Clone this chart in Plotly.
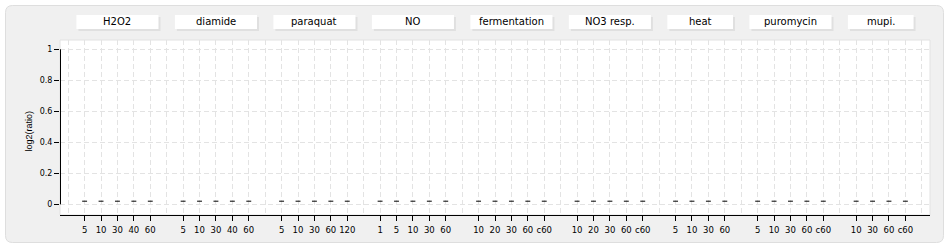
import plotly.graph_objects as go

# ---------------- data ----------------
groups = ["H2O2", "diamide", "paraquat", "NO", "fermentation",
          "NO3 resp.", "heat", "puromycin", "mupi."]
h2o2_t = ["5", "10", "30", "40", "60"]
diamide_t = ["5", "10", "30", "40", "60"]
paraquat_t = ["5", "10", "30", "60", "120"]
no_t = ["1", "5", "10", "30", "60"]
ferm_t = ["10", "20", "30", "60", "c60"]
no3_t = ["10", "20", "30", "60", "c60"]
heat_t = ["5", "10", "30", "60"]
puro_t = ["5", "10", "30", "60", "c60"]
mupi_t = ["10", "30", "60", "c60"]

h2o2_v = [0.02, 0.02, 0.02, 0.02, 0.02]
diamide_v = [0.02, 0.02, 0.02, 0.02, 0.02]
paraquat_v = [0.02, 0.02, 0.02, 0.02, 0.02]
no_v = [0.02, 0.02, 0.02, 0.02, 0.02]
ferm_v = [0.02, 0.02, 0.02, 0.02, 0.02]
no3_v = [0.02, 0.02, 0.02, 0.02, 0.02]
heat_v = [0.02, 0.02, 0.02, 0.02]
puro_v = [0.02, 0.02, 0.02, 0.02, 0.02]
mupi_v = [0.02, 0.02, 0.02, 0.02]

y_ticks = [0, 0.2, 0.4, 0.6, 0.8, 1]
y_ticktext = ["0", "0.2", "0.4", "0.6", "0.8", "1"]

times = [h2o2_t, diamide_t, paraquat_t, no_t, ferm_t, no3_t, heat_t, puro_t, mupi_t]
values = [h2o2_v, diamide_v, paraquat_v, no_v, ferm_v, no3_v, heat_v, puro_v, mupi_v]

# ---------------- layout geometry (pixels) ----------------
W, H = 950, 250
L, R, T, B = 60, 930, 40, 215


def px_x(p):
    return (p - L) / (R - L)


def px_y(p):
    return (B - p) / (B - T)


# positions: consecutive slots per group, one empty slot between groups
tick_vals, tick_text, spans = [], [], []
pos = 0
for g, ts in zip(groups, times):
    start = pos
    for t in ts:
        tick_vals.append(pos)
        tick_text.append(t)
        pos += 1
    spans.append((start, pos - 1))
    pos += 1
last_slot = pos - 2
x_range = [-1.5, last_slot + 1.5]
unit_px = (R - L) / (x_range[1] - x_range[0])

fig = go.Figure()

all_x, all_y = [], []
for (s, e), vals in zip(spans, values):
    for i, v in enumerate(vals):
        all_x.append(s + i)
        all_y.append(v)

fig.add_trace(go.Scatter(
    x=all_x, y=all_y, mode="markers",
    marker=dict(symbol="line-ew", size=3.5, color="black",
                line=dict(color="black", width=1)),
    showlegend=False, hoverinfo="x+y"))

shapes = []
# rounded gray panel
x0p, x1p, y0p, y1p = px_x(5.5), px_x(943.5), px_y(242.5), px_y(5.5)
rx, ry = 7 / (R - L), 7 / (B - T)
path = (f"M {x0p+rx},{y1p} L {x1p-rx},{y1p} Q {x1p},{y1p} {x1p},{y1p-ry} "
        f"L {x1p},{y0p+ry} Q {x1p},{y0p} {x1p-rx},{y0p} "
        f"L {x0p+rx},{y0p} Q {x0p},{y0p} {x0p},{y0p+ry} "
        f"L {x0p},{y1p-ry} Q {x0p},{y1p} {x0p+rx},{y1p} Z")
shapes.append(dict(type="path", path=path, xref="paper", yref="paper",
                   fillcolor="#f0f0f0", line=dict(color="#dedede", width=1),
                   layer="below"))
# white plot area with light border
shapes.append(dict(type="rect", xref="paper", yref="paper", x0=0, x1=1, y0=0, y1=1,
                   line=dict(color="#e2e2e2", width=1), fillcolor="white",
                   layer="below"))
# y axis line from 0 to 1
shapes.append(dict(type="line", xref="paper", yref="y", x0=px_x(60.5), x1=px_x(60.5),
                   y0=0, y1=1, line=dict(color="black", width=1)))

annotations = []
sh = 2 / unit_px
for g, (s, e) in zip(groups, spans):
    shapes.append(dict(type="rect", xref="x", yref="paper",
                       x0=s - 0.5 + sh, x1=e + 0.5 + sh,
                       y0=px_y(31), y1=px_y(17),
                       fillcolor="#e0e0e0", line=dict(width=0)))
    shapes.append(dict(type="rect", xref="x", yref="paper",
                       x0=s - 0.5, x1=e + 0.5,
                       y0=px_y(29), y1=px_y(15),
                       fillcolor="white", line=dict(width=0)))
    annotations.append(dict(x=(s + e) / 2, y=px_y(21.5), xref="x", yref="paper",
                            text=g, showarrow=False, xanchor="center", yanchor="middle",
                            font=dict(family="DejaVu Sans", size=10, color="black")))

annotations.append(dict(x=px_x(28.5), y=px_y(131), xref="paper", yref="paper",
                        text="log2(ratio)", showarrow=False, textangle=-90,
                        xanchor="center", yanchor="middle",
                        font=dict(family="Liberation Sans", size=9, color="black")))

fig.update_layout(
    width=W, height=H,
    margin=dict(l=L, r=W - R, t=T, b=H - B, pad=0, autoexpand=False),
    paper_bgcolor="white", plot_bgcolor="white",
    shapes=shapes, annotations=annotations, showlegend=False,
    font=dict(family="DejaVu Sans", size=9, color="black"),
)

fig.update_xaxes(
    range=x_range, tickmode="array", tickvals=tick_vals, ticktext=tick_text,
    tickangle=0, automargin=False, ticklabelstandoff=2,
    showline=True, linecolor="black", linewidth=1,
    ticks="outside", ticklen=5, tickcolor="black", tickwidth=1,
    showgrid=True, gridcolor="#e3e3e3", griddash="5px,3px", gridwidth=1,
    minor=dict(tick0=0, dtick=1, showgrid=True, gridcolor="#e3e3e3",
               griddash="5px,3px", gridwidth=1, ticks=""),
    zeroline=False, tickfont=dict(family="DejaVu Sans", size=8.5, color="black"),
    fixedrange=True,
)
fig.update_yaxes(
    range=[-0.069, 1.06], tickmode="array", tickvals=y_ticks, ticktext=y_ticktext,
    automargin=False,
    showline=False, ticks="outside", ticklen=5, tickcolor="black", tickwidth=1,
    showgrid=True, gridcolor="#e3e3e3", griddash="5px,3px", gridwidth=1,
    zeroline=False, tickfont=dict(family="DejaVu Sans", size=8, color="black"),
    fixedrange=True,
)

fig.write_html("out.html", config=dict(displayModeBar=False))
